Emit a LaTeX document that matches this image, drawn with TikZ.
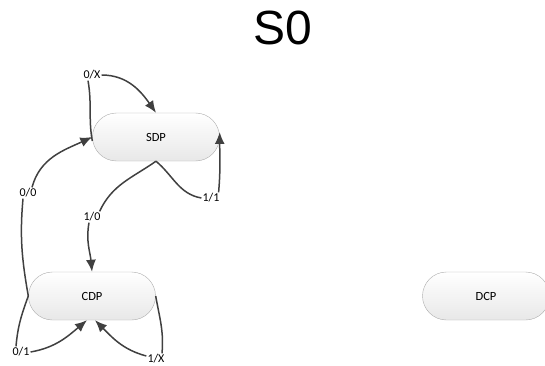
\documentclass[tikz,border=0pt]{standalone}
\usepackage{fontspec}
\newfontfamily\titlefont{Liberation Sans}
\newfontfamily\labelfont{Carlito}
\usetikzlibrary{shapes.misc,arrows.meta}
\tikzset{
  state/.style={rounded rectangle, draw=gray!65, top color=white, bottom color=gray!18,
    minimum width=127pt, minimum height=48pt, inner sep=0pt, font=\labelfont\fontsize{12.5}{14}\selectfont},
  lbl/.style={inner sep=1pt, font=\labelfont\fontsize{12}{14}\selectfont},
  edge/.style={draw=black!75, line width=1.5pt},
  arr/.style={edge, -{Latex[length=12pt,width=10pt]}}
}
\begin{document}
\begin{tikzpicture}[x=1pt,y=-1pt]
  \useasboundingbox (0,0) rectangle (545,366);
  \node[font=\titlefont\fontsize{48}{50}\selectfont] (title) at (283,28) {S0};
  % states
  \node[state] (SDP) at (156,137) {SDP};
  \node[state] (CDP) at (92,296) {CDP};
  \node[state] (DCP) at (486,296) {DCP};
  % labels
  \node[lbl] (l0X) at (92,75) {0/X};
  \node[lbl] (l11) at (211,198) {1/1};
  \node[lbl] (l10) at (92,217) {1/0};
  \node[lbl] (l00) at (28,193) {0/0};
  \node[lbl] (l01) at (21,352) {0/1};
  \node[lbl] (l1X) at (156,359) {1/X};
  % transitions
  \draw[edge] ([yshift=-4pt]SDP.west) to[out=100,in=-80] ([xshift=-4pt]l0X.south);
  \draw[arr] (l0X.east) to[out=0,in=125] (SDP.north);
  \draw[edge] (SDP.south) to[out=-40,in=170] (l11.west);
  \draw[arr] ([xshift=-2pt]l11.north east) to[out=85,in=-90] ([yshift=5pt]SDP.east);
  \draw[edge] (SDP.south) to[out=-145,in=65] ([xshift=-2pt]l10.north east);
  \draw[arr] ([xshift=-3pt]l10.south) to[out=-100,in=95] (CDP.north);
  \draw[edge] (CDP.west) to[out=100,in=-95] ([xshift=-5pt]l00.south);
  \draw[arr] ([xshift=4pt]l00.north) to[out=75,in=-155] (SDP.west);
  \draw[edge] (CDP.west) to[out=-110,in=85] ([xshift=-5pt]l01.north);
  \draw[arr] (l01.east) to[out=10,in=-140] ([xshift=-5pt]CDP.south);
  \draw[edge] (CDP.east) to[out=-80,in=85] ([xshift=6pt]l1X.north);
  \draw[arr] ([yshift=3pt]l1X.west) to[out=165,in=-45] ([xshift=3pt]CDP.south);
\end{tikzpicture}
\end{document}
